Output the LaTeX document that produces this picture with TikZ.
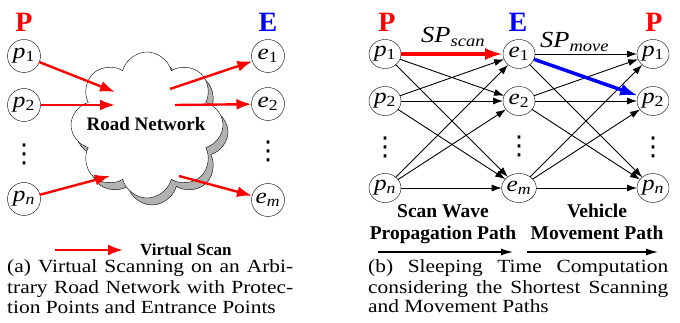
\documentclass[tikz,border=0pt]{standalone}
\usepackage{fontspec}
\setmainfont{Liberation Serif}
\newfontfamily\widefont{Liberation Serif}[FakeStretch=1.15]
\newfontfamily\symfont{DejaVu Sans}
\usepackage{tkz-graph}
\usetikzlibrary{arrows.meta}
\usetikzlibrary{shapes}
\usetikzlibrary{shadows}

\newcommand{\nd}[2]{\textit{#1}\textsubscript{#2}}

\begin{document}
\begin{tikzpicture}[x = 1pt, y = -1pt]
	\tikzstyle{VertexStyle} = []
	\tikzstyle{LabelStyle} = []
	\tikzstyle{EdgeStyle} = []
	\tikzstyle{pointStyle} = [shape = circle, minimum size = 33pt, inner sep = 0pt, draw, font = \widefont\fontsize{22}{22}\selectfont]
	\tikzstyle{nodeStyle} = [shape = ellipse, minimum width = 32pt, minimum height = 29pt, inner sep = 0pt, draw, font = \widefont\fontsize{22}{22}\selectfont]
	\tikzstyle{linkStyle} = [color = black, line width = 0.9pt, -{Latex[length = 10pt, width = 7pt]}]
	\tikzstyle{scanStyle} = [color = red, line width = 2.4pt, -{Latex[length = 15pt, width = 11pt]}]
	\tikzstyle{spScanStyle} = [color = red, line width = 3.5pt, -{Latex[length = 18pt, width = 12pt]}]
	\tikzstyle{spMoveStyle} = [color = blue, line width = 3.5pt, -{Latex[length = 18pt, width = 12pt]}]
	\tikzstyle{pathArrowStyle} = [color = black, line width = 1.2pt, -{Latex[length = 12pt, width = 7pt]}]
	\tikzstyle{setStyle} = [anchor = base, inner sep = 0pt, font = \fontsize{28}{28}\selectfont\bfseries]
	\tikzstyle{dotsStyle} = [inner sep = 0pt, font = \symfont\fontsize{26}{26}\selectfont]
	\tikzstyle{boldStyle} = [anchor = base, inner sep = 0pt, font = \fontsize{19.5}{19.5}\selectfont\bfseries]
	\tikzstyle{captionStyle} = [anchor = base west, inner sep = 0pt, font = \widefont\fontsize{18.6}{20.5}\selectfont]
	\useasboundingbox (0,0) rectangle (680,323);
	% (a) virtual scanning
	\node[setStyle, red] (hpa) at (24,32) {P};
	\node[setStyle, blue] (hea) at (268,32) {E};
	\node[cloud, cloud puffs = 8, cloud ignores aspect, draw, fill = white, minimum width = 152pt, minimum height = 146pt,
		copy shadow = {shadow xshift = 5pt, shadow yshift = -7pt, fill = gray!60, draw = black}] (road) at (147,125) {};
	\node[anchor = base, inner sep = 0pt, font = \fontsize{19}{19}\selectfont\bfseries] (roadtext) at (146,131) {Road Network};
	\Vertex[style = pointStyle, x = 24, y = 56, L = {\nd{p}{1}}]{pa1}
	\Vertex[style = pointStyle, x = 24, y = 105, L = {\nd{p}{2}}]{pa2}
	\Vertex[style = pointStyle, x = 24, y = 199, L = {\nd{p}{\textit{n}}}]{pan}
	\Vertex[style = pointStyle, x = 268, y = 56, L = {\nd{e}{1}}]{ea1}
	\Vertex[style = pointStyle, x = 268, y = 104, L = {\nd{e}{2}}]{ea2}
	\Vertex[style = pointStyle, x = 268, y = 200, L = {\nd{e}{\textit{m}}}]{eam}
	\node[dotsStyle] (da1) at (24,154) {⋮};
	\node[dotsStyle] (da2) at (268,151) {⋮};
	\coordinate (in1) at (115,92);
	\coordinate (in2) at (115,105);
	\coordinate (inn) at (110,176);
	\coordinate (out1) at (170,89);
	\coordinate (out2) at (175,105);
	\coordinate (outm) at (179,176);
	\Edge[style = scanStyle](pa1)(in1)
	\Edge[style = scanStyle](pa2)(in2)
	\Edge[style = scanStyle](pan)(inn)
	\Edge[style = scanStyle](out1)(ea1)
	\Edge[style = scanStyle](out2)(ea2)
	\Edge[style = scanStyle](outm)(eam)
	% legend
	\coordinate (lg0) at (55,250);
	\coordinate (lg1) at (123,250);
	\Edge[style = scanStyle](lg0)(lg1)
	\node[anchor = base west, inner sep = 0pt, font = \fontsize{17}{17}\selectfont\bfseries] (lgtext) at (140,255) {Virtual Scan};
	\node[captionStyle] (capa1) at (7,272) {\makebox[286pt][s]{(a) Virtual Scanning on an Arbi-}};
	\node[captionStyle] (capa2) at (7,293) {\makebox[286pt][s]{trary Road Network with Protec-}};
	\node[captionStyle] (capa3) at (7,313) {tion Points and Entrance Points};
	% (b) sleeping time
	\node[setStyle, red] (hpb) at (387,32) {P};
	\node[setStyle, blue] (heb) at (518,32) {E};
	\node[setStyle, red] (hqb) at (654,32) {P};
	\Vertex[style = nodeStyle, x = 385, y = 54, L = {\nd{p}{1}}]{pb1}
	\Vertex[style = nodeStyle, x = 385, y = 101, L = {\nd{p}{2}}]{pb2}
	\Vertex[style = nodeStyle, x = 385, y = 188, L = {\nd{p}{\textit{n}}}]{pbn}
	\Vertex[style = nodeStyle, x = 519, y = 54, L = {\nd{e}{1}}]{eb1}
	\Vertex[style = nodeStyle, x = 519, y = 101, L = {\nd{e}{2}}]{eb2}
	\Vertex[style = nodeStyle, x = 519, y = 188, L = {\nd{e}{\textit{m}}}]{ebm}
	\Vertex[style = nodeStyle, x = 653, y = 54, L = {\nd{p}{1}}]{qb1}
	\Vertex[style = nodeStyle, x = 653, y = 101, L = {\nd{p}{2}}]{qb2}
	\Vertex[style = nodeStyle, x = 653, y = 188, L = {\nd{p}{\textit{n}}}]{qbn}
	\node[dotsStyle] (db1) at (385,147) {⋮};
	\node[dotsStyle] (db2) at (519,146) {⋮};
	\node[dotsStyle] (db3) at (653,147) {⋮};
	\Edge[style = linkStyle](pb1)(eb2)
	\Edge[style = linkStyle](pb1)(ebm)
	\Edge[style = linkStyle](pb2)(eb1)
	\Edge[style = linkStyle](pb2)(eb2)
	\Edge[style = linkStyle](pb2)(ebm)
	\Edge[style = linkStyle](pbn)(eb1)
	\Edge[style = linkStyle](pbn)(eb2)
	\Edge[style = linkStyle](pbn)(ebm)
	\Edge[style = linkStyle](eb1)(qb1)
	\Edge[style = linkStyle](eb1)(qbn)
	\Edge[style = linkStyle](eb2)(qb1)
	\Edge[style = linkStyle](eb2)(qb2)
	\Edge[style = linkStyle](eb2)(qbn)
	\Edge[style = linkStyle](ebm)(qb1)
	\Edge[style = linkStyle](ebm)(qb2)
	\Edge[style = linkStyle](ebm)(qbn)
	\Edge[style = spScanStyle](pb1)(eb1)
	\Edge[style = spMoveStyle](eb1)(qb2)
	\node[anchor = base west, inner sep = 0pt, font = \widefont\fontsize{23}{23}\selectfont] (spscan) at (421,43) {\nd{SP}{\textit{scan}}};
	\node[anchor = base west, inner sep = 0pt, font = \widefont\fontsize{23}{23}\selectfont] (spmove) at (540,48) {\nd{SP}{\textit{move}}};
	\node[boldStyle] (scan1) at (443,218) {Scan Wave};
	\node[boldStyle] (scan2) at (443,240) {Propagation Path};
	\node[boldStyle] (move1) at (597,218) {Vehicle};
	\node[boldStyle] (move2) at (597,240) {Movement Path};
	\coordinate (pa0) at (378,252);
	\coordinate (pa9) at (513,252);
	\coordinate (pm0) at (527,252);
	\coordinate (pm9) at (658,252);
	\Edge[style = pathArrowStyle](pa0)(pa9)
	\Edge[style = pathArrowStyle](pm0)(pm9)
	\node[captionStyle] (capb1) at (368,272) {\makebox[300pt][s]{(b) Sleeping Time Computation}};
	\node[captionStyle] (capb2) at (368,293) {\makebox[300pt][s]{considering the Shortest Scanning}};
	\node[captionStyle] (capb3) at (368,312) {and Movement Paths};
\end{tikzpicture}
\end{document}
